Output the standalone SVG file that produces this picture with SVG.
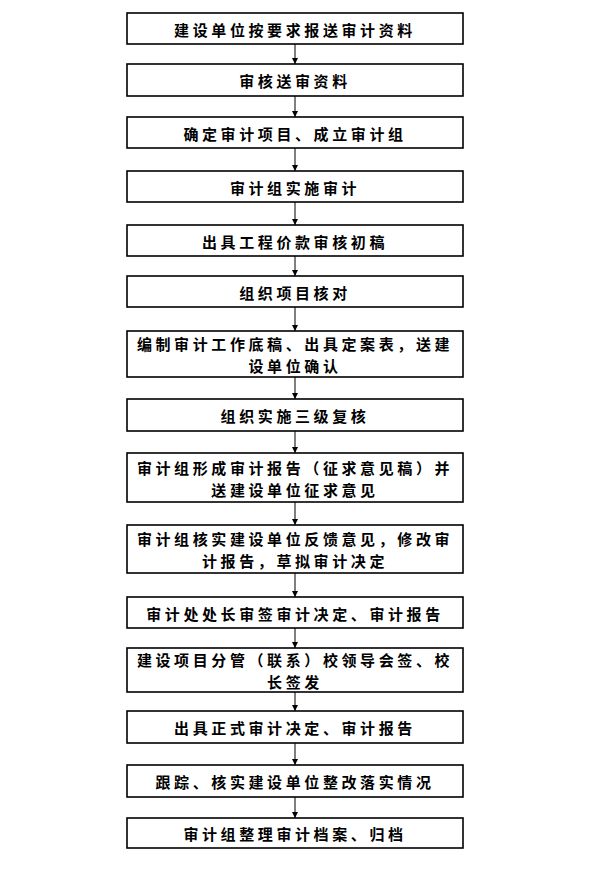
<svg xmlns="http://www.w3.org/2000/svg" width="608" height="870" viewBox="0 0 608 870">
<style>
.box{fill:#fff;stroke:#000;stroke-width:1.6}
.t{font-family:"Noto Sans CJK SC","Noto Sans CJK TC",sans-serif;font-size:15px;font-weight:bold;fill:#000;text-anchor:middle;dominant-baseline:central;letter-spacing:3.6px}
.c{stroke:#000;stroke-width:1;fill:none;marker-end:url(#ah)}
</style>
<defs>
<marker id="ah" markerWidth="8" markerHeight="8" refX="6" refY="3" orient="auto" markerUnits="userSpaceOnUse">
<path d="M0,0 L6,3 L0,6 Z" fill="#000"/>
</marker>
</defs>
<rect width="608" height="870" fill="#fff"/>
<g id="connectors">
<line class="c" x1="295" y1="44" x2="295" y2="64"/>
<line class="c" x1="295" y1="96" x2="295" y2="117"/>
<line class="c" x1="295" y1="148" x2="295" y2="171"/>
<line class="c" x1="295" y1="202" x2="295" y2="225"/>
<line class="c" x1="295" y1="256" x2="295" y2="276"/>
<line class="c" x1="295" y1="307" x2="295" y2="331"/>
<line class="c" x1="295" y1="377" x2="295" y2="399"/>
<line class="c" x1="295" y1="431" x2="295" y2="453"/>
<line class="c" x1="295" y1="502" x2="295" y2="525"/>
<line class="c" x1="295" y1="573" x2="295" y2="597"/>
<line class="c" x1="295" y1="628" x2="295" y2="648"/>
<line class="c" x1="295" y1="692" x2="295" y2="711"/>
<line class="c" x1="295" y1="743" x2="295" y2="765"/>
<line class="c" x1="295" y1="797" x2="295" y2="818"/>
</g>
<g id="n1"><rect class="box" x="127" y="13" width="336" height="31"/><text class="t" x="295" y="29">建设单位按要求报送审计资料</text></g>
<g id="n2"><rect class="box" x="127" y="64" width="336" height="32"/><text class="t" x="295" y="80">审核送审资料</text></g>
<g id="n3"><rect class="box" x="127" y="117" width="336" height="31"/><text class="t" x="295" y="133">确定审计项目、成立审计组</text></g>
<g id="n4"><rect class="box" x="127" y="171" width="336" height="31"/><text class="t" x="295" y="187">审计组实施审计</text></g>
<g id="n5"><rect class="box" x="127" y="225" width="336" height="31"/><text class="t" x="295" y="241">出具工程价款审核初稿</text></g>
<g id="n6"><rect class="box" x="127" y="276" width="336" height="31"/><text class="t" x="295" y="292">组织项目核对</text></g>
<g id="n7"><rect class="box" x="127" y="331" width="336" height="46"/><text class="t" x="295" y="343">编制审计工作底稿、出具定案表，送建</text><text class="t" x="295" y="365">设单位确认</text></g>
<g id="n8"><rect class="box" x="127" y="399" width="336" height="32"/><text class="t" x="295" y="415">组织实施三级复核</text></g>
<g id="n9"><rect class="box" x="127" y="453" width="336" height="49"/><text class="t" x="295" y="467">审计组形成审计报告（征求意见稿）并</text><text class="t" x="295" y="489">送建设单位征求意见</text></g>
<g id="n10"><rect class="box" x="127" y="525" width="336" height="48"/><text class="t" x="295" y="538">审计组核实建设单位反馈意见，修改审</text><text class="t" x="295" y="560">计报告，草拟审计决定</text></g>
<g id="n11"><rect class="box" x="127" y="597" width="336" height="31"/><text class="t" x="295" y="613">审计处处长审签审计决定、审计报告</text></g>
<g id="n12"><rect class="box" x="127" y="648" width="336" height="44"/><text class="t" x="295" y="659">建设项目分管（联系）校领导会签、校</text><text class="t" x="295" y="681">长签发</text></g>
<g id="n13"><rect class="box" x="127" y="711" width="336" height="32"/><text class="t" x="295" y="727">出具正式审计决定、审计报告</text></g>
<g id="n14"><rect class="box" x="127" y="765" width="336" height="32"/><text class="t" x="295" y="781">跟踪、核实建设单位整改落实情况</text></g>
<g id="n15"><rect class="box" x="127" y="818" width="336" height="30"/><text class="t" x="295" y="833">审计组整理审计档案、归档</text></g>
</svg>
